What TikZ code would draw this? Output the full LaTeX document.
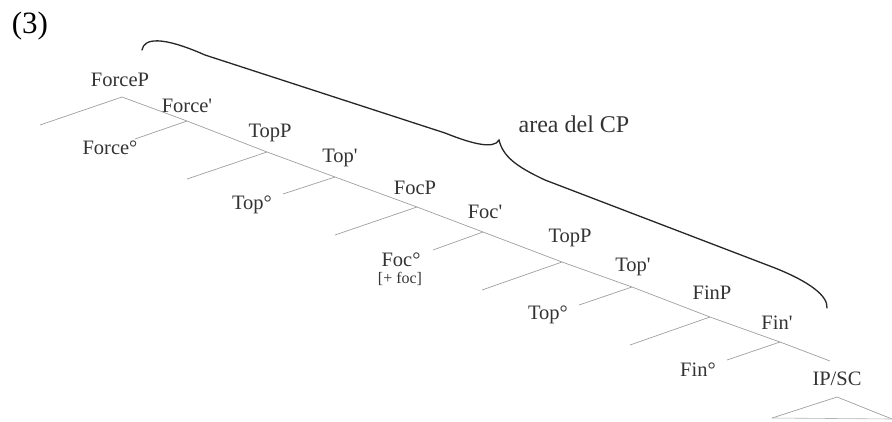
\documentclass[tikz,border=0pt]{standalone}
\usepackage{fontspec}
\setmainfont{Liberation Serif}
\newcommand{\pr}{\textquotesingle}
\begin{document}
\begin{tikzpicture}[x=1pt,y=-1pt,
  br/.style={draw=gray!75, line width=0.7pt},
  lab/.style={font=\fontsize{20.5}{22}\selectfont, text=black!80, inner sep=0pt},
  small/.style={font=\fontsize{16}{18}\selectfont, text=black!80, inner sep=0pt},
  brace/.style={draw=black!85, line width=1.3pt, line cap=round}]
\useasboundingbox (0,0) rectangle (892,421);
% junctions
\coordinate (forceP) at (122,97);
\coordinate (forceB) at (187,121);
\coordinate (topP) at (267,152);
\coordinate (topB) at (335,177);
\coordinate (focP) at (417,207);
\coordinate (focB) at (483,232);
\coordinate (topPb) at (562,262);
\coordinate (topBb) at (632,287);
\coordinate (finP) at (710,317);
\coordinate (finB) at (780,342);
\coordinate (ipEnd) at (830,361);
% branch ends
\coordinate (s1) at (40,125);
\coordinate (h1) at (135,139);
\coordinate (s2) at (187,179);
\coordinate (h2) at (283,194);
\coordinate (s3) at (335,235);
\coordinate (h3) at (433,250);
\coordinate (s4) at (482,290);
\coordinate (h4) at (579,305);
\coordinate (s5) at (630,345);
\coordinate (h5) at (727,360);
% triangle
\coordinate (triTop) at (837,397);
\coordinate (triL) at (772,418);
\coordinate (triR) at (892,419);
% spine
\draw[br] (forceP) -- (forceB) -- (topP) -- (topB) -- (focP) -- (focB) -- (topPb) -- (topBb) -- (finP) -- (finB) -- (ipEnd);
\draw[br] (forceP) -- (s1);
\draw[br] (forceB) -- (h1);
\draw[br] (topP) -- (s2);
\draw[br] (topB) -- (h2);
\draw[br] (focP) -- (s3);
\draw[br] (focB) -- (h3);
\draw[br] (topPb) -- (s4);
\draw[br] (topBb) -- (h4);
\draw[br] (finP) -- (s5);
\draw[br] (finB) -- (h5);
\draw[br] (triL) -- (triTop) -- (triR);
\draw[draw=gray!60, line width=0.6pt] (triL) -- (triR);
% labels
\node[font=\fontsize{31}{33}\selectfont, inner sep=0pt] (num) at (30,26) {(3)};
\node[lab] (lForceP) at (120,80) {ForceP};
\node[lab] (lForceB) at (187,106) {Force\pr};
\node[lab] (lForce0) at (110,148) {Force°};
\node[lab] (lTopP) at (270,133) {TopP};
\node[lab] (lTopB) at (340,158) {Top\pr};
\node[lab] (lTop0) at (252,205) {Top°};
\node[lab] (lFocP) at (415,188) {FocP};
\node[lab] (lFocB) at (485,212) {Foc\pr};
\node[lab] (lFoc0) at (401,260) {Foc°};
\node[small] (lFocF) at (400,279) {[+ foc]};
\node[lab] (lTopPb) at (570,238) {TopP};
\node[lab] (lTopBb) at (633,267) {Top\pr};
\node[lab] (lTop0b) at (548,315) {Top°};
\node[lab] (lFinP) at (712,293) {FinP};
\node[lab] (lFinB) at (777,323) {Fin\pr};
\node[lab] (lFin0) at (698,370) {Fin°};
\node[lab] (lIP) at (837,379) {IP/SC};
\node[font=\fontsize{24}{26}\selectfont, text=black!80, inner sep=0pt] (area) at (574,124) {area del CP};
% brace
\draw[brace] (142,50) .. controls (144,38) and (162,36) .. (205,55)
  -- (445,133) .. controls (470,143) and (494,150) .. (499,140)
  .. controls (503,156) and (515,166) .. (545,180)
  -- (775,268) .. controls (810,282) and (828,296) .. (827,308);
\end{tikzpicture}
\end{document}
